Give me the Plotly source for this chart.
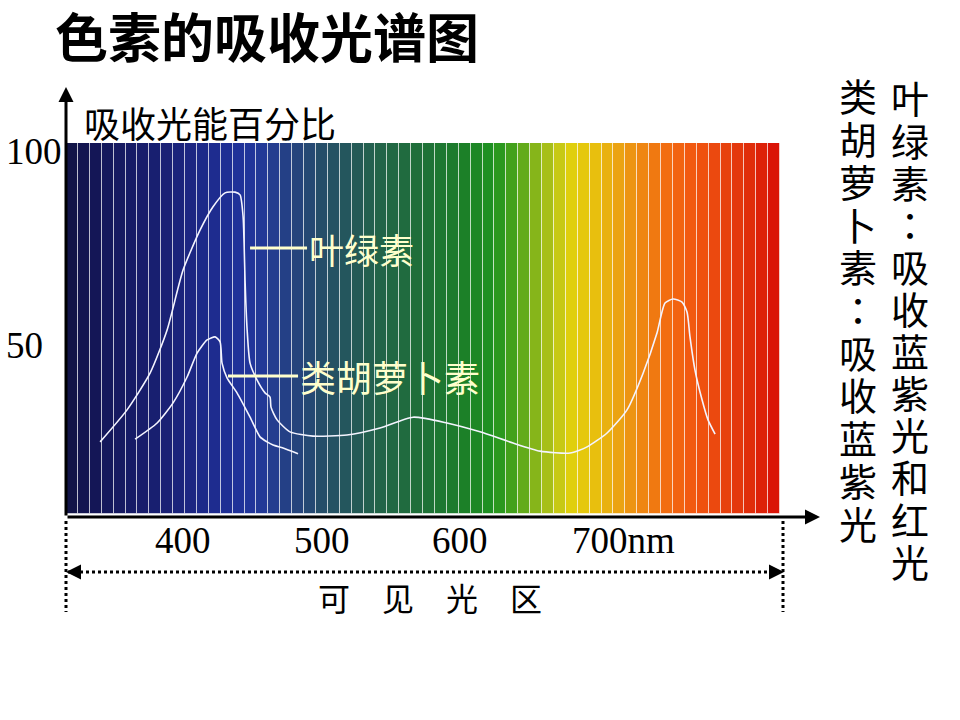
import plotly.graph_objects as go
import numpy as np

# ---------------- data ----------------
# chlorophyll absorption curve (wavelength nm, % absorbed)
chl_nm = [340.2, 359.6, 376.2, 388.5, 400.0, 412.3, 421.6, 430.3, 437.5, 441.1, 443.3, 444.0,
          444.7, 446.2, 448.3, 453.4, 459.1, 462.7, 463.4, 467.8, 477.1, 493.7, 518.2, 542.0,
          565.8, 590.3, 614.1, 637.9, 657.4, 679.0, 691.3, 705.7, 720.1, 731.7, 741.7, 747.5,
          753.3, 759.8, 763.4, 765.5, 769.1, 774.2, 778.5, 783.6]
chl_val = [24.9, 33.2, 42.7, 53.9, 69.4, 79.8, 85.8, 89.4, 89.6, 88.9, 83.2, 76.4,
           66.8, 53.9, 45.3, 40.9, 37.6, 36.5, 33.9, 30.6, 27.5, 26.4, 26.7, 28.5,
           31.3, 29.8, 27.5, 24.6, 22.5, 22.0, 23.6, 27.2, 33.2, 42.7, 53.1, 60.9,
           61.9, 61.1, 58.5, 52.1, 43.5, 35.8, 30.6, 26.9]
# carotenoid absorption curve
car_nm = [365.4, 381.3, 392.8, 402.9, 410.1, 417.3, 423.1, 426.7, 428.1, 431.7, 438.9,
          448.3, 455.5, 460.6, 464.9, 472.1, 482.9]
car_val = [25.6, 29.8, 35.0, 41.7, 47.9, 51.3, 52.1, 50.8, 45.3, 41.5, 37.6,
           31.3, 26.2, 24.9, 24.1, 23.3, 21.8]

x_ticks = [400, 500, 600, 700]
x_ticktext = ["400", "500", "600", "700nm"]
y_ticks = [100, 50]
y_ticktext = ["100", "50"]

title = "色素的吸收光谱图"
y_title = "吸收光能百分比"
x_title = "可　见　光　区"
chl_label = "叶绿素"
car_label = "类胡萝卜素"
note_chl = "叶绿素：吸收蓝紫光和红光"
note_car = "类胡萝卜素：吸收蓝紫光"

# label anchor positions (nm, %)
chl_label_pos = (448.3, 489.4, 75.1)   # leader start, leader end/text start, level
car_label_pos = (432.4, 482.9, 42.0)

# ---------------- layout constants ----------------
X0, X1 = 315.6, 830.4          # x range (nm)
Y0, Y1 = 5.44, 102.33          # y range
SPEC_BASE = 6.2
N_STRIPES = 60

anchor_f = [0.00, 0.05, 0.10, 0.15, 0.20, 0.25, 0.28, 0.32, 0.36, 0.40, 0.44, 0.50, 0.56,
            0.60, 0.63, 0.66, 0.69, 0.71, 0.74, 0.77, 0.80, 0.84, 0.88, 0.92, 0.96, 1.00]
anchor_c = ["#121345", "#14175a", "#171c68", "#1a2278", "#1d2a8c", "#20339c", "#233a96",
            "#25437f", "#254e68", "#24585a", "#226448", "#1e7038", "#1c8028", "#1f9420",
            "#4aa41a", "#8ab61a", "#c4c816", "#e2d00c", "#e8c00e", "#eaa812", "#ee8c12",
            "#f26e10", "#f25610", "#e8440e", "#e02c0a", "#d80e06"]

# plot-area pixel frame (for paper coordinates)
PL, PR, PT, PB = 66, 780, 143, 517
PW, PH = PR - PL, PB - PT


def px(xp):
    return (xp - PL) / PW


def py(yp):
    return (PB - yp) / PH


def hex2rgb(h):
    h = h.lstrip('#')
    return [int(h[i:i + 2], 16) for i in (0, 2, 4)]


A = np.array([hex2rgb(c) for c in anchor_c], dtype=float)
w = (X1 - X0) / N_STRIPES
centers = [X0 + w * (i + 0.5) for i in range(N_STRIPES)]
stripe_colors = []
for i in range(N_STRIPES):
    f = (i + 0.5) / N_STRIPES
    rgb = [np.interp(f, anchor_f, A[:, k]) for k in range(3)]
    stripe_colors.append("rgb(%d,%d,%d)" % tuple(int(round(v)) for v in rgb))

fig = go.Figure()
fig.add_trace(go.Bar(x=centers, y=[Y1 - SPEC_BASE] * N_STRIPES, base=SPEC_BASE, width=w,
                     marker=dict(color=stripe_colors,
                                 line=dict(color="rgba(255,255,255,0.55)", width=1)),
                     hoverinfo="skip", showlegend=False))
fig.add_trace(go.Scatter(x=chl_nm, y=chl_val, mode="lines",
                         line=dict(color="#f4f4ff", width=1.6, shape="spline", smoothing=0.6),
                         hoverinfo="skip", showlegend=False))
fig.add_trace(go.Scatter(x=car_nm, y=car_val, mode="lines",
                         line=dict(color="#f4f4ff", width=1.6, shape="spline", smoothing=0.6),
                         hoverinfo="skip", showlegend=False))

# leader lines
for (xa, xb, yv) in [chl_label_pos, car_label_pos]:
    fig.add_shape(type="line", x0=xa, x1=xb, y0=yv, y1=yv, xref="x", yref="y",
                  line=dict(color="#ffffcc", width=3))

CJK = "Noto Sans CJK SC"
SERIF = "Liberation Serif"
ann = []
ann.append(dict(x=chl_label_pos[1], y=chl_label_pos[2], xref="x", yref="y", text=chl_label,
                showarrow=False, xanchor="left", yanchor="middle",
                font=dict(family=CJK, size=35, color="#ffffcc")))
ann.append(dict(x=car_label_pos[1], y=car_label_pos[2], xref="x", yref="y", text=car_label,
                showarrow=False, xanchor="left", yanchor="middle",
                font=dict(family=CJK, size=36, color="#ffffcc")))

# y tick labels (left aligned)
for v, t in zip(y_ticks, y_ticktext):
    ann.append(dict(x=px(4), y=v, xref="paper", yref="y", text=t, showarrow=False,
                    xanchor="left", yanchor="middle",
                    font=dict(family=SERIF, size=37, color="black")))
# x tick labels (number centred on its value; unit trails the last one)
for v, t in zip(x_ticks, x_ticktext):
    num = t.rstrip("nm")
    if t != num:
        ann.append(dict(x=v, y=py(540), xref="x", yref="paper", text=t, showarrow=False,
                        xanchor="left", yanchor="middle", xshift=-len(num) * 37 * 0.25 - 1,
                        font=dict(family=SERIF, size=37, color="black")))
    else:
        ann.append(dict(x=v, y=py(540), xref="x", yref="paper", text=t, showarrow=False,
                        xanchor="center", yanchor="middle",
                        font=dict(family=SERIF, size=37, color="black")))

# title & axis titles
ann.append(dict(x=px(53), y=py(35), xref="paper", yref="paper", text="<b>" + title + "</b>",
                showarrow=False, xanchor="left", yanchor="middle",
                font=dict(family=CJK, size=53, color="black")))
ann.append(dict(x=px(82), y=py(122), xref="paper", yref="paper", text=y_title,
                showarrow=False, xanchor="left", yanchor="middle",
                font=dict(family=CJK, size=36, color="black")))
ann.append(dict(x=px(430), y=py(597), xref="paper", yref="paper", text=x_title,
                showarrow=False, xanchor="center", yanchor="middle",
                font=dict(family=CJK, size=32, color="black")))


# vertical notes (one character per line)
def vcol(text, xc, y_first, pitch, size):
    for i, ch in enumerate(text):
        fam = "Noto Sans CJK TC" if ch == "：" else CJK
        ann.append(dict(x=px(xc), y=py(y_first + i * pitch),
                        xref="paper", yref="paper", text=ch, showarrow=False,
                        xanchor="center", yanchor="middle",
                        font=dict(family=fam, size=size, color="black")))


vcol(note_chl, 910, 97, 42.1, 38)
vcol(note_car, 858, 95, 42.7, 38)

# axis arrows
ann.append(dict(x=0, y=py(87), xref="paper", yref="paper", text="", showarrow=True,
                ax=0, ay=430, arrowhead=2, arrowwidth=3, arrowsize=1, arrowcolor="black"))
ann.append(dict(x=px(820), y=0, xref="paper", yref="paper", text="", showarrow=True,
                ax=-754, ay=0, arrowhead=2, arrowwidth=3, arrowsize=1, arrowcolor="black"))
# dotted double arrow heads
ann.append(dict(x=px(66), y=py(572), xref="paper", yref="paper", text="",
                showarrow=True, ax=8, ay=0, arrowhead=2, arrowwidth=2.5, arrowsize=1.2,
                arrowcolor="black"))
ann.append(dict(x=px(784), y=py(572), xref="paper", yref="paper", text="",
                showarrow=True, ax=-8, ay=0, arrowhead=2, arrowwidth=2.5, arrowsize=1.2,
                arrowcolor="black"))

shapes = [
    dict(type="line", xref="paper", yref="paper", x0=0, x1=0, y0=py(521), y1=py(612),
         line=dict(color="black", width=3, dash="dot")),
    dict(type="line", xref="paper", yref="paper", x0=px(783), x1=px(783),
         y0=py(521), y1=py(612), line=dict(color="black", width=3, dash="dot")),
    dict(type="line", xref="paper", yref="paper", x0=px(68), x1=px(781),
         y0=py(572), y1=py(572), line=dict(color="black", width=3, dash="dot")),
]
for s in shapes:
    fig.add_shape(**s)

fig.update_layout(
    width=960, height=720,
    margin=dict(l=PL, r=960 - PR, t=PT, b=720 - PB),
    paper_bgcolor="white", plot_bgcolor="white",
    bargap=0,
    xaxis=dict(range=[X0, X1], showgrid=False, zeroline=False, showline=False,
               showticklabels=False, ticks="", fixedrange=True),
    yaxis=dict(range=[Y0, Y1], showgrid=False, zeroline=False, showline=False,
               showticklabels=False, ticks="", fixedrange=True),
    annotations=ann,
    showlegend=False,
)

fig.write_html("out.html")
